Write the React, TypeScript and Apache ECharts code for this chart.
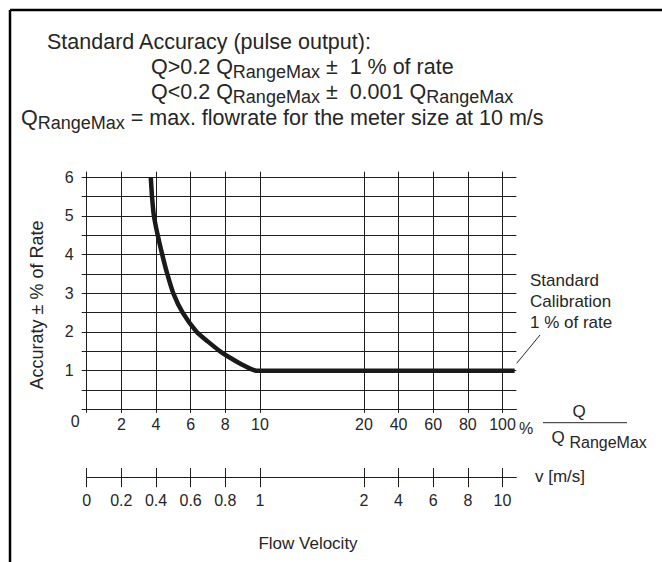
import React, { useEffect, useRef } from 'react';
import * as echarts from 'echarts';

// Broken Q-axis: tick values (% of Q_RangeMax) and the axis slot each tick sits in
const qTickValues = [0, 2, 4, 6, 8, 10, 20, 40, 60, 80, 100];
const qTickLabels = ['0', '2', '4', '6', '8', '10', '20', '40', '60', '80', '100'];
const qTickSlots = [0, 1, 2, 3, 4, 5, 8, 9, 10, 11, 12];
// Flow velocity axis labels (same slots)
const vTickLabels = ['0', '0.2', '0.4', '0.6', '0.8', '1', '2', '4', '6', '8', '10'];
// Accuracy axis labelled ticks
const yTickLabels = [1, 2, 3, 4, 5, 6];
// Accuracy curve: [Q in % of Q_RangeMax, accuracy ± % of rate]
const accuracyCurve: [number, number][] = [
  [3.7, 6.0], [3.77, 5.5], [3.88, 5.0], [4.1, 4.5], [4.36, 4.0], [4.65, 3.5],
  [5.0, 3.0], [5.54, 2.5], [6.35, 2.0], [7.0, 1.75], [7.7, 1.5], [8.4, 1.3],
  [8.9, 1.17], [9.4, 1.06], [9.8, 1.0], [10, 1.0], [20, 1.0], [40, 1.0],
  [60, 1.0], [80, 1.0], [100, 1.0], [107, 1.0],
];

const AXIS_END = 12.4; // axis extends slightly past the 100 % tick
const SUB = 5; // category sub-slots per unit

function qToPos(q: number): number {
  for (let i = 0; i < qTickValues.length - 1; i++) {
    if (q <= qTickValues[i + 1]) {
      const t = (q - qTickValues[i]) / (qTickValues[i + 1] - qTickValues[i]);
      return qTickSlots[i] + t * (qTickSlots[i + 1] - qTickSlots[i]);
    }
  }
  const n = qTickValues.length - 1;
  const slope = (qTickSlots[n] - qTickSlots[n - 1]) / (qTickValues[n] - qTickValues[n - 1]);
  return qTickSlots[n] + (q - qTickValues[n]) * slope;
}

const FONT_NAME = 'Liberation Sans';
const FONT = 'Liberation Sans, Arial, Helvetica, sans-serif';
const INK = '#262626';

let measureCtx: CanvasRenderingContext2D | null = null;
function measure(text: string, size: number): number {
  if (!measureCtx) measureCtx = document.createElement('canvas').getContext('2d');
  if (!measureCtx) return text.length * size * 0.55;
  measureCtx.font = `${size}px "${FONT_NAME}", Arial, sans-serif`;
  return measureCtx.measureText(text).width;
}

type Piece = { t: string; sub?: boolean };
// Lays out a line of text with subscripts as separate text elements
function richLine(x0: number, cy: number, pieces: Piece[], size: number, subSize: number, subShift: number) {
  const els: any[] = [];
  let x = x0;
  pieces.forEach((p) => {
    const fs = p.sub ? subSize : size;
    const lead = p.t.length - p.t.trimStart().length;
    const core = p.t.trim();
    const trail = p.t.trimStart().length - core.length;
    x += measure(' '.repeat(lead), fs);
    if (core) {
      els.push({
        type: 'text', x, y: cy + (p.sub ? subShift : 0),
        style: { text: core, fontSize: fs, fontFamily: FONT, fill: INK, verticalAlign: 'middle', align: 'left' },
      });
      x += measure(core, fs);
    }
    x += measure(' '.repeat(trail), fs);
  });
  return els;
}

export default function App() {
  const ref = useRef<HTMLDivElement>(null);
  useEffect(() => {
    document.body.style.margin = '0';
    if (!ref.current) return;
    const chart = echarts.init(ref.current, null, { renderer: 'svg' });

    const nSlots = Math.round(AXIS_END * SUB) + 1;
    const slotTick: Record<number, number> = {};
    qTickSlots.forEach((s, i) => { slotTick[s * SUB] = i; });
    const qCats: string[] = [];
    const vCats: string[] = [];
    for (let k = 0; k < nSlots; k++) {
      const ti = slotTick[k];
      qCats.push(ti !== undefined ? qTickLabels[ti] : ' ');
      vCats.push(ti !== undefined ? vTickLabels[ti] : ' ');
    }
    const showTick = (idx: number) => slotTick[idx] !== undefined;

    const left = 86.7;
    const unit = 34.65;
    const width = unit * AXIS_END;
    const gridLine = { color: '#1e1e1e', width: 1 };

    const TS = 21.5; // title font size
    const TSS = 18; // title subscript size
    const SH = 5; // subscript drop
    const titleEls = [
      ...richLine(47, 42, [{ t: 'Standard Accuracy (pulse output):' }], TS, TSS, SH),
      ...richLine(151, 67, [{ t: 'Q>0.2 Q' }, { t: 'RangeMax', sub: true }, { t: ' ±  1 % of rate' }], TS, TSS, SH),
      ...richLine(151, 92, [{ t: 'Q<0.2 Q' }, { t: 'RangeMax', sub: true }, { t: ' ±  0.001 Q' }, { t: 'RangeMax', sub: true }], TS, TSS, SH),
      ...richLine(21, 118, [{ t: 'Q' }, { t: 'RangeMax', sub: true }, { t: ' = max. flowrate for the meter size at 10 m/s' }], TS, TSS, SH),
    ];
    const fracEls = richLine(551.5, 437.5, [{ t: 'Q ' }, { t: 'RangeMax', sub: true }], 17, 16, 5);

    chart.setOption({
      animation: false,
      backgroundColor: '#fff',
      textStyle: { fontFamily: FONT },
      grid: [
        { left, top: 177.3, width, height: 232 },
        { left, top: 468, width, height: 9.7 },
      ],
      xAxis: [
        {
          gridIndex: 0, type: 'category', position: 'bottom', data: qCats, boundaryGap: false,
          axisLine: { show: true, lineStyle: gridLine },
          axisTick: { show: true, interval: showTick, length: 3.5, inside: false, lineStyle: gridLine },
          splitLine: { show: true, interval: showTick, lineStyle: gridLine },
          axisLabel: {
            interval: showTick, margin: 4.5, color: INK, fontSize: 16,
            formatter: (v: string) => (v === '0' ? '{z|0}' : '{n|' + v + '}'),
            rich: {
              z: { fontSize: 16, lineHeight: 16, padding: [0, 23, 0, 0], color: INK, fontFamily: FONT },
              n: { fontSize: 16, lineHeight: 16, padding: [6, 0, 0, 0], color: INK, fontFamily: FONT },
            },
          },
        },
        {
          gridIndex: 0, type: 'category', position: 'top', data: qCats, boundaryGap: false,
          axisLine: { show: false },
          axisTick: { show: true, interval: showTick, length: 5.6, inside: false, lineStyle: gridLine },
          splitLine: { show: false },
          axisLabel: { show: false },
        },
        { gridIndex: 0, type: 'value', min: 0, max: AXIS_END, show: false },
        {
          gridIndex: 1, type: 'category', position: 'bottom', data: vCats, boundaryGap: false,
          axisLine: { show: true, lineStyle: gridLine },
          axisTick: { show: true, interval: showTick, length: 9.5, inside: false, lineStyle: gridLine },
          splitLine: { show: true, interval: showTick, lineStyle: gridLine },
          axisLabel: { interval: showTick, margin: 14.8, color: INK, fontSize: 16, lineHeight: 16, fontFamily: FONT },
        },
      ],
      yAxis: [
        {
          gridIndex: 0, type: 'value', min: 0, max: 6, interval: 0.5, position: 'left',
          axisLine: { show: true, lineStyle: gridLine },
          axisTick: { show: true, length: 5, inside: false, lineStyle: gridLine },
          splitLine: { show: true, lineStyle: gridLine },
          axisLabel: {
            margin: 13, color: INK, fontSize: 16, fontFamily: FONT,
            formatter: (v: number) => (yTickLabels.indexOf(v) >= 0 ? String(v) : ''),
          },
        },
        { gridIndex: 1, type: 'value', show: false },
      ],
      series: [
        {
          type: 'line', xAxisIndex: 2, yAxisIndex: 0,
          data: accuracyCurve.map(([q, a]) => [qToPos(q), a]),
          smooth: 0.2, symbol: 'none', z: 5,
          lineStyle: { width: 4.5, color: '#1a1a1a', cap: 'butt' },
        },
      ],
      graphic: [
        { type: 'line', shape: { x1: 10, y1: 10, x2: 662, y2: 10 }, style: { stroke: '#000', lineWidth: 2.5 } },
        { type: 'line', shape: { x1: 10, y1: 10, x2: 10, y2: 562 }, style: { stroke: '#000', lineWidth: 2.5 } },
        ...titleEls,
        {
          type: 'text', x: 37, y: 305, rotation: Math.PI / 2,
          style: { text: 'Accuraty ± % of Rate', fontSize: 18, fontFamily: FONT, fill: INK, verticalAlign: 'middle', align: 'center' },
        },
        {
          type: 'text', x: 530, y: 269.5,
          style: { text: 'Standard\nCalibration\n1 % of rate', fontSize: 17, lineHeight: 21, fontFamily: FONT, fill: INK, verticalAlign: 'top', align: 'left' },
        },
        { type: 'line', shape: { x1: 516.7, y1: 363.3, x2: 540, y2: 335 }, style: { stroke: INK, lineWidth: 1 } },
        { type: 'text', x: 519, y: 428, style: { text: '%', fontSize: 16, fontFamily: FONT, fill: INK, verticalAlign: 'middle', align: 'left' } },
        { type: 'text', x: 579, y: 411, style: { text: 'Q', fontSize: 17, fontFamily: FONT, fill: INK, verticalAlign: 'middle', align: 'center' } },
        { type: 'line', shape: { x1: 543, y1: 422.7, x2: 627, y2: 422.7 }, style: { stroke: INK, lineWidth: 1 } },
        ...fracEls,
        { type: 'text', x: 535, y: 476.7, style: { text: 'v [m/s]', fontSize: 17, fontFamily: FONT, fill: INK, verticalAlign: 'middle', align: 'left' } },
        { type: 'text', x: 308, y: 543, style: { text: 'Flow Velocity', fontSize: 17, fontFamily: FONT, fill: INK, verticalAlign: 'middle', align: 'center' } },
      ],
    });
    return () => chart.dispose();
  }, []);
  return <div ref={ref} style={{ width: 662, height: 562 }} />;
}
